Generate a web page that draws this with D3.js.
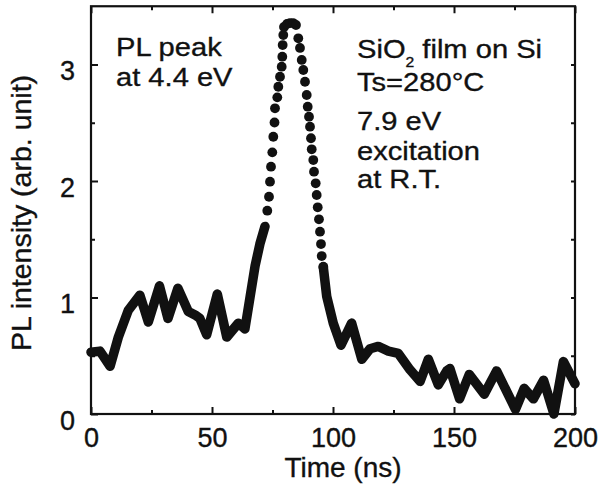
<!DOCTYPE html>
<html>
<head>
<meta charset="utf-8">
<script src="https://cdn.jsdelivr.net/npm/d3@7"></script>
<style>
  html, body { margin: 0; padding: 0; background: #fff; }
  svg { display: block; font-family: "Liberation Sans", Arial, Helvetica, sans-serif; }
  text { stroke: #111; stroke-width: 0.35px; }
</style>
</head>
<body>
<svg id="chart" width="600" height="492"></svg>
<script>
// PL decay trace: solid part before the pulse
const leadTime = [0, 3.7, 7.9, 11.3, 15.4, 20.2, 23.7, 28.3, 31.8, 35.9, 40.2, 43, 45, 47.8, 52.2, 56.1, 60.9, 63.6, 65.7, 67.8, 69.8, 71.9];
const leadPL   = [0.53, 0.54, 0.41, 0.66, 0.89, 1.02, 0.79, 1.1, 0.82, 1.08, 0.88, 0.85, 0.82, 0.68, 1.03, 0.66, 0.78, 0.73, 1.0, 1.27, 1.46, 1.61];

// individual samples across the excitation pulse
const peakTime = [72.85, 73.55, 73.97, 74.38, 74.92, 75.33, 75.83, 76.03, 76.98, 77.4, 78.1, 78.8, 79.05, 79.2, 79.46,
                  79.75, 81.0, 82.2, 83.5, 84.7,
                  85.66, 86.36, 87.07, 87.73, 88.43, 89.13, 89.55, 90.08, 90.5, 90.9, 91.2, 91.86, 92.15, 92.85, 93.26, 93.68, 94.2, 94.63, 95.04, 95.33, 96.0];
const peakPL   = [1.745, 1.865, 1.994, 2.123, 2.246, 2.38, 2.502, 2.624, 2.718, 2.809, 2.895, 2.981, 3.067, 3.167, 3.253,
                  3.322, 3.348, 3.356, 3.356, 3.339,
                  3.225, 3.142, 3.039, 2.953, 2.852, 2.738, 2.638, 2.552, 2.466, 2.367, 2.272, 2.18, 2.08, 1.98, 1.88, 1.774, 1.671, 1.565, 1.459, 1.356, 1.264];

// solid part after the pulse
const tailTime = [96.0, 97.4, 100.1, 103.3, 107.7, 111.9, 115.3, 118.7, 122.9, 127, 131.8, 136, 139.4, 143.5, 147, 148.3, 152.3, 156.3, 162.5, 167.6, 175.4, 179, 182.8, 187, 191.3, 195.2, 200];
const tailPL   = [1.26, 1.01, 0.78, 0.59, 0.78, 0.47, 0.56, 0.58, 0.54, 0.52, 0.38, 0.28, 0.47, 0.25, 0.37, 0.39, 0.13, 0.34, 0.17, 0.37, 0.04, 0.22, 0.13, 0.29, 0.0, 0.45, 0.26];

const xMajor = [0, 50, 100, 150, 200];
const xMinor = [25, 75, 125, 175];
const yMajor = [0, 1, 2, 3];
const yMinor = [0.5, 1.5, 2.5];

const svg = d3.select("#chart");
const ink = "#111";

const x = d3.scaleLinear().domain([0, 200]).range([91, 575]);
const y = d3.scaleLinear().domain([0, 3.5]).range([414, 6.25]);
const [x0, x1] = x.range();
const [y0, y1] = y.range();

// ticks, all pointing into the plot
function ticks(axisGen, transform, values, size, labelled) {
  const a = axisGen.tickValues(values).tickSizeInner(-size).tickSizeOuter(0)
    .tickFormat(labelled ? d3.format("d") : () => "");
  const g = svg.append("g").attr("transform", transform).call(a);
  g.select(".domain").remove();
  g.selectAll("line").attr("stroke", ink).attr("stroke-width", 2);
  return g;
}

const bottom = ticks(d3.axisBottom(x).tickPadding(14), `translate(0,${y0})`, xMajor, 7, true);
bottom.selectAll("text").attr("font-size", 27).attr("fill", ink)
  .attr("font-family", "Liberation Sans, Arial, sans-serif");
ticks(d3.axisBottom(x), `translate(0,${y0})`, xMinor, 4, false);
ticks(d3.axisTop(x), `translate(0,${y1})`, xMajor, 7, false);
ticks(d3.axisTop(x), `translate(0,${y1})`, xMinor, 4, false);

const left = ticks(d3.axisLeft(y).tickPadding(16), `translate(${x0},0)`, yMajor, 7, true);
left.selectAll("text").attr("font-size", 27).attr("fill", ink).attr("dy", "0.56em")
  .attr("font-family", "Liberation Sans, Arial, sans-serif");
ticks(d3.axisLeft(y), `translate(${x0},0)`, yMinor, 4, false);
ticks(d3.axisRight(y), `translate(${x1},0)`, yMajor.concat(yMinor), 4, false);

// plot frame
svg.append("rect")
  .attr("x", x0).attr("y", y1)
  .attr("width", x1 - x0).attr("height", y0 - y1)
  .attr("fill", "none").attr("stroke", ink).attr("stroke-width", 2.2);

// trace
const line = d3.line().x(d => x(d[0])).y(d => y(d[1]));
const segments = [d3.zip(leadTime, leadPL), d3.zip(tailTime, tailPL)];
svg.append("g").selectAll("path").data(segments).join("path")
  .attr("d", line)
  .attr("fill", "none")
  .attr("stroke", ink)
  .attr("stroke-width", 9.5)
  .attr("stroke-linejoin", "round")
  .attr("stroke-linecap", "round");

svg.append("g").selectAll("circle").data(d3.zip(peakTime, peakPL)).join("circle")
  .attr("cx", d => x(d[0]))
  .attr("cy", d => y(d[1]))
  .attr("r", 4.9)
  .attr("fill", ink);

// text, slightly widened to the figure's lettering
function label(str, px, py, size, sx) {
  return svg.append("text")
    .attr("transform", `translate(${px},${py}) scale(${sx},1)`)
    .attr("font-size", size)
    .attr("fill", ink)
    .text(str);
}

label("PL peak", 116, 56, 26, 1.12);
label("at 4.4 eV", 116, 86, 26, 1.12);

const sio = svg.append("text")
  .attr("transform", "translate(357,58) scale(1.12,1)")
  .attr("font-size", 26).attr("fill", ink);
sio.append("tspan").text("SiO");
sio.append("tspan").attr("font-size", 14).attr("dy", 9).text("2");
sio.append("tspan").attr("dy", -9).text(" film on Si");

label("Ts=280°C", 357, 91, 26, 1.12);
label("7.9 eV", 357, 130, 26, 1.12);
label("excitation", 357, 160, 26, 1.12);
label("at R.T.", 357, 188, 26, 1.12);

// axis titles
svg.append("text")
  .attr("x", 343).attr("y", 477)
  .attr("text-anchor", "middle")
  .attr("font-size", 28).attr("fill", ink)
  .text("Time (ns)");

svg.append("text")
  .attr("transform", "translate(31,213) rotate(-90)")
  .attr("text-anchor", "middle")
  .attr("font-size", 28.5).attr("fill", ink)
  .text("PL intensity (arb. unit)");
</script>
</body>
</html>
